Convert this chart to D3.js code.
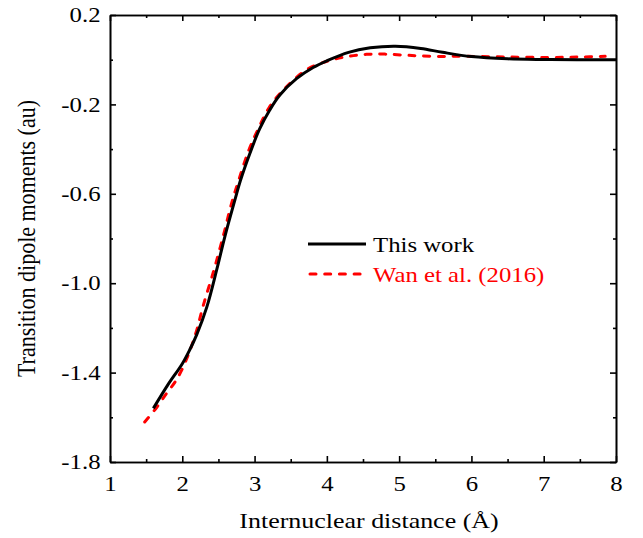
<!DOCTYPE html>
<html>
<head>
<meta charset="utf-8">
<script src="https://cdn.jsdelivr.net/npm/d3@7"></script>
<style>
  body { margin: 0; background: #fff; }
  text { font-family: "Liberation Serif", "Times New Roman", serif; }
</style>
</head>
<body>
<div id="chart"></div>
<script>
// This work (black solid)
const thisR = [1.6, 1.8, 2.0, 2.1, 2.2, 2.34, 2.48, 2.59, 2.73, 2.8, 2.94, 3.07, 3.21, 3.35, 3.58, 3.81, 4.0, 4.3, 4.6, 4.95, 5.3, 5.6, 6.0, 6.5, 7.0, 7.5, 8.0];
const thisD = [-1.56, -1.455, -1.36, -1.30, -1.23, -1.106, -0.935, -0.79, -0.625, -0.545, -0.415, -0.31, -0.225, -0.158, -0.085, -0.035, -0.005, 0.033, 0.053, 0.06, 0.05, 0.033, 0.014, 0.004, 0.001, 0.0, 0.0];

// Wan et al. (2016) (red dashed)
const wanR = [1.48, 1.65, 1.78, 1.9, 1.99, 2.08, 2.13, 2.2, 2.29, 2.43, 2.57, 2.68, 2.78, 2.92, 3.05, 3.2, 3.4, 3.72, 4.04, 4.3, 4.55, 4.8, 5.1, 5.47, 5.93, 6.5, 7.09, 7.5, 7.85];
const wanD = [-1.621, -1.554, -1.494, -1.442, -1.39, -1.323, -1.28, -1.21, -1.10, -0.95, -0.785, -0.645, -0.54, -0.405, -0.31, -0.215, -0.135, -0.045, -0.003, 0.015, 0.024, 0.025, 0.02, 0.015, 0.015, 0.012, 0.01, 0.012, 0.015];

const xTicks = [1, 2, 3, 4, 5, 6, 7, 8];
const yTicks = [0.2, -0.2, -0.6, -1.0, -1.4, -1.8];
const legendLabels = ['This work', 'Wan et al. (2016)'];

const width = 643;
const height = 538;
const mLeft = 110, mRight = 616, mTop = 15, mBottom = 462;
const stretch = 1.18; // text in the reference is a bit wider than tall

const x = d3.scaleLinear().domain([1, 8]).range([mLeft, mRight]);
const y = d3.scaleLinear().domain([-1.8, 0.2]).range([mBottom, mTop]);

const svg = d3.select('#chart')
  .append('svg')
  .attr('width', width)
  .attr('height', height);

// curves
const line = d3.line()
  .x(d => x(d[0]))
  .y(d => y(d[1]))
  .curve(d3.curveCatmullRom.alpha(0.5));

svg.append('path')
  .datum(wanR.map((r, i) => [r, wanD[i]]))
  .attr('d', line)
  .attr('fill', 'none')
  .attr('stroke', '#ff0000')
  .attr('stroke-width', 3)
  .attr('stroke-linecap', 'round')
  .attr('stroke-dasharray', '6,8.7');

svg.append('path')
  .datum(thisR.map((r, i) => [r, thisD[i]]))
  .attr('d', line)
  .attr('fill', 'none')
  .attr('stroke', '#000')
  .attr('stroke-width', 3);

// axes, ticks pointing inward on all four sides
const xMinor = d3.range(1.5, 8, 1);
const yMinor = [0.0, -0.4, -0.8, -1.2, -1.6];

const axisStyle = g => {
  g.attr('font-family', null);
  g.select('.domain').attr('stroke', '#000').attr('stroke-width', 1.6);
  g.selectAll('.tick line').attr('stroke', '#000').attr('stroke-width', 1.6);
  g.selectAll('.tick text')
    .attr('font-size', 21)
    .attr('fill', '#000')
    .attr('transform', 'scale(' + stretch + ',1)');
};

svg.append('g')
  .attr('transform', 'translate(0,' + mBottom + ')')
  .call(d3.axisBottom(x).tickValues(xTicks).tickFormat(d3.format('d')).tickSizeInner(-6).tickSizeOuter(0).tickPadding(14))
  .call(axisStyle);

svg.append('g')
  .attr('transform', 'translate(0,' + mBottom + ')')
  .call(d3.axisBottom(x).tickValues(xMinor).tickFormat('').tickSizeInner(-3).tickSizeOuter(0))
  .call(axisStyle);

svg.append('g')
  .attr('transform', 'translate(0,' + mTop + ')')
  .call(d3.axisTop(x).tickValues(xTicks).tickFormat('').tickSizeInner(-6).tickSizeOuter(0))
  .call(axisStyle);

svg.append('g')
  .attr('transform', 'translate(0,' + mTop + ')')
  .call(d3.axisTop(x).tickValues(xMinor).tickFormat('').tickSizeInner(-3).tickSizeOuter(0))
  .call(axisStyle);

svg.append('g')
  .attr('transform', 'translate(' + mLeft + ',0)')
  .call(d3.axisLeft(y).tickValues(yTicks).tickFormat(d => d.toFixed(1)).tickSizeInner(-6).tickSizeOuter(0).tickPadding(8))
  .call(axisStyle);

svg.append('g')
  .attr('transform', 'translate(' + mLeft + ',0)')
  .call(d3.axisLeft(y).tickValues(yMinor).tickFormat('').tickSizeInner(-3).tickSizeOuter(0))
  .call(axisStyle);

svg.append('g')
  .attr('transform', 'translate(' + mRight + ',0)')
  .call(d3.axisRight(y).tickValues(yTicks).tickFormat('').tickSizeInner(-6).tickSizeOuter(0))
  .call(axisStyle);

svg.append('g')
  .attr('transform', 'translate(' + mRight + ',0)')
  .call(d3.axisRight(y).tickValues(yMinor).tickFormat('').tickSizeInner(-3).tickSizeOuter(0))
  .call(axisStyle);

// axis titles
svg.append('text')
  .attr('transform', 'translate(' + ((mLeft + mRight) / 2 + 6) + ',528) scale(' + stretch + ',1)')
  .attr('text-anchor', 'middle')
  .attr('font-size', 22)
  .text('Internuclear distance (Å)');

svg.append('text')
  .attr('transform', 'translate(35,' + ((mTop + mBottom) / 2) + ') scale(' + stretch + ',1) rotate(-90)')
  .attr('text-anchor', 'middle')
  .attr('font-size', 22)
  .text('Transition dipole moments (au)');

// legend
const legend = svg.append('g');
const legendColors = ['#000', '#ff0000'];
const legendDash = [null, '6,8.7'];
legendLabels.forEach((label, i) => {
  const ly = 244 + i * 30;
  legend.append('line')
    .attr('x1', i ? 310 : 308).attr('x2', 366)
    .attr('y1', ly).attr('y2', ly)
    .attr('stroke', legendColors[i])
    .attr('stroke-width', 3)
    .attr('stroke-linecap', i ? 'round' : 'butt')
    .attr('stroke-dasharray', legendDash[i]);
  legend.append('text')
    .attr('transform', 'translate(373,' + (ly + 8) + ') scale(' + stretch + ',1)')
    .attr('font-size', 21)
    .attr('fill', legendColors[i])
    .text(label);
});
</script>
</body>
</html>
